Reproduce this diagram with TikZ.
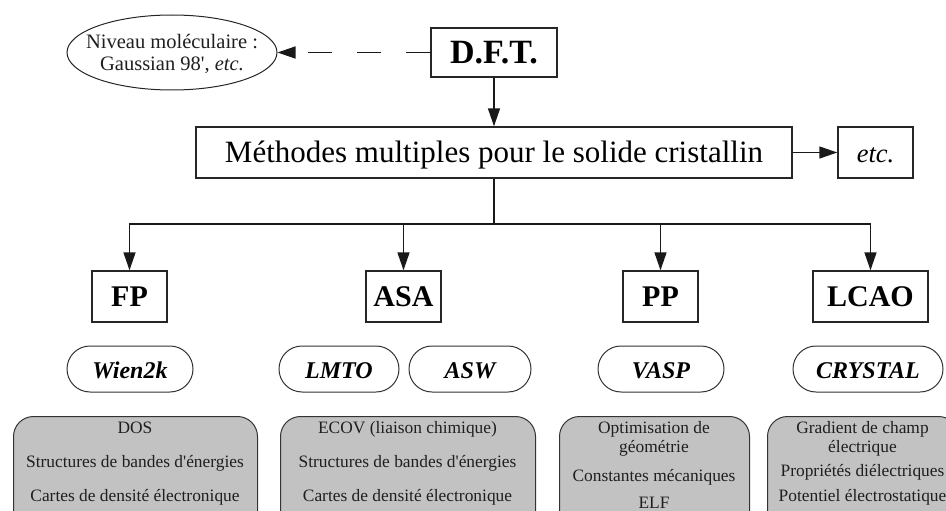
\documentclass[tikz,border=0pt]{standalone}
\usepackage{fontspec}
\setmainfont{Liberation Serif}
\usetikzlibrary{arrows.meta,shapes.geometric}
\begin{document}
\begin{tikzpicture}[x=1pt,y=-1pt,
  box/.style={draw=black!85,line width=1.4pt,inner sep=0pt,fill=white},
  bigbox/.style={box,minimum height=51pt,text depth=0pt},
  oval/.style={draw=black!80,line width=1pt,rounded corners=23pt,minimum height=46pt,inner sep=0pt,
    font=\fontsize{24}{26}\selectfont\bfseries\itshape,text height=18pt,text depth=0pt},
  graybox/.style={draw=black!80,line width=1pt,rounded corners=20pt,fill=black!24,inner sep=0pt,
    minimum height=140pt,anchor=north west},
  gtext/.style={anchor=base,inner sep=0pt,font=\fontsize{17.4}{20}\selectfont,text=black!88},
  etext/.style={anchor=base,inner sep=0pt,font=\fontsize{20.5}{22}\selectfont,text=black!88},
  conn/.style={line width=1.5pt,draw=black!90},
  arr/.style={conn,-{Triangle[length=18pt,width=12pt]}},
]
\useasboundingbox (0,0) rectangle (946,511);
\clip (0,0) rectangle (946,511);

% top
\node[draw=black!85,line width=1pt,ellipse,minimum width=210pt,minimum height=75pt,inner sep=0pt] (ell) at (172,52.5) {};
\node[etext] (ell1) at (172,49) {Niveau moléculaire :};
\node[etext] (ell2) at (172,71) {Gaussian 98\textquotesingle, \textit{etc.}};

\node[box,minimum width=126pt,minimum height=49pt,text height=22.5pt,text depth=0pt,
  font=\fontsize{34}{36}\selectfont\bfseries] (dft) at (494,52.5) {D.F.T.};
\node[bigbox,minimum width=596pt,text height=20.5pt,font=\fontsize{31}{33}\selectfont] (meth) at (494,152.5)
  {Méthodes multiples pour le solide cristallin};
\node[bigbox,minimum width=75pt,text height=20pt,font=\fontsize{26.5}{28}\selectfont\itshape] (etc) at (875.5,152.5) {etc.};

\draw[arr,dash pattern=on 24pt off 25pt] (dft.west) -- (ell.east);
\draw[arr] (dft.south) -- (meth.north);
\draw[arr] (meth.east) -- (etc.west);

% methods
\begin{scope}[every node/.append style={font=\fontsize{30}{32}\selectfont\bfseries,text height=20pt}]
\node[bigbox,minimum width=75pt] (fp) at (129.5,296.5) {FP};
\node[bigbox,minimum width=75pt] (asa) at (403.5,296.5) {ASA};
\node[bigbox,minimum width=75pt] (pp) at (660.5,296.5) {PP};
\node[bigbox,minimum width=115pt] (lcao) at (870.5,296.5) {LCAO};
\end{scope}

\coordinate (bus) at (494,224);
\draw[conn] (meth.south) -- (bus);
\draw[arr] (bus) -| (fp.north);
\draw[arr] (bus) -| (asa.north);
\draw[arr] (bus) -| (pp.north);
\draw[arr] (bus) -| (lcao.north);

% codes
\node[oval,minimum width=126pt] (wien) at (130,369) {Wien2k};
\node[oval,minimum width=120pt] (lmto) at (339,369) {LMTO};
\node[oval,minimum width=122pt] (asw) at (470,369) {ASW};
\node[oval,minimum width=126pt] (vasp) at (661,369) {VASP};
\node[oval,minimum width=150pt] (crystal) at (868,369) {CRYSTAL};

% property boxes
\node[graybox,minimum width=244pt] (g1) at (13,416) {};
\node[graybox,minimum width=255pt] (g2) at (280,416) {};
\node[graybox,minimum width=190pt] (g3) at (559,416) {};
\node[graybox,minimum width=191pt] (g4) at (767,416) {};

\node[gtext] (g1a) at (135,433) {DOS};
\node[gtext] (g1b) at (135,467) {Structures de bandes d\textquotesingle énergies};
\node[gtext] (g1c) at (135,501) {Cartes de densité électronique};

\node[gtext] (g2a) at (407.5,433) {ECOV (liaison chimique)};
\node[gtext] (g2b) at (407.5,467) {Structures de bandes d\textquotesingle énergies};
\node[gtext] (g2c) at (407.5,501) {Cartes de densité électronique};

\node[gtext] (g3a) at (654,433) {Optimisation de};
\node[gtext] (g3b) at (654,452) {géométrie};
\node[gtext] (g3c) at (654,481) {Constantes mécaniques};
\node[gtext] (g3d) at (654,508.5) {ELF};

\node[gtext] (g4a) at (862.5,433) {Gradient de champ};
\node[gtext] (g4b) at (862.5,452) {électrique};
\node[gtext] (g4c) at (862.5,476) {Propriétés diélectriques};
\node[gtext] (g4d) at (862.5,501) {Potentiel électrostatique};
\end{tikzpicture}
\end{document}
